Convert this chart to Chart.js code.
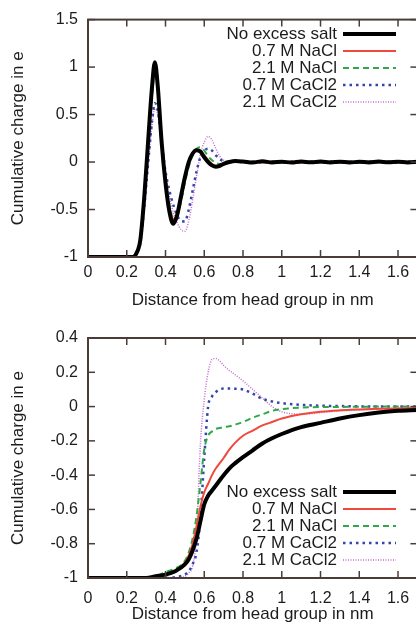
<!DOCTYPE html>
<html><head><meta charset="utf-8">
<script src="https://cdn.jsdelivr.net/npm/chart.js@4/dist/chart.umd.min.js"></script>
<style>
html,body{margin:0;padding:0;background:#fff;overflow:hidden;width:416px;height:629px;}
#w1{position:absolute;left:0;top:0;width:430px;height:314px;}
#w2{position:absolute;left:0;top:314px;width:430px;height:315px;}
</style></head><body>
<div id="w1"><canvas id="c1" width="430" height="314"></canvas></div>
<div id="w2"><canvas id="c2" width="430" height="315"></canvas></div>
<script>
// ---------- data ----------
const seriesLabels = ["No excess salt", "0.7 M NaCl", "2.1 M NaCl", "0.7 M CaCl2", "2.1 M CaCl2"];

const xTickValues = [0, 0.2, 0.4, 0.6, 0.8, 1, 1.2, 1.4, 1.6];
const xTickLabels = ["0", "0.2", "0.4", "0.6", "0.8", "1", "1.2", "1.4", "1.6"];
const yTopTickValues = [-1, -0.5, 0, 0.5, 1, 1.5];
const yTopTickLabels = ["-1", "-0.5", "0", "0.5", "1", "1.5"];
const yBotTickValues = [-1, -0.8, -0.6, -0.4, -0.2, 0, 0.2, 0.4];
const yBotTickLabels = ["-1", "-0.8", "-0.6", "-0.4", "-0.2", "0", "0.2", "0.4"];

const xTop = [0, 0.2, 0.23, 0.25, 0.27, 0.29, 0.31, 0.33, 0.345, 0.36, 0.38, 0.40, 0.42, 0.44, 0.46, 0.48, 0.50, 0.52, 0.54, 0.56, 0.58, 0.60, 0.62, 0.64, 0.66, 0.68, 0.70, 0.73, 0.76, 0.8, 0.85, 0.9, 0.95, 1.0, 1.05, 1.1, 1.15, 1.2, 1.25, 1.3, 1.35, 1.4, 1.45, 1.5, 1.55, 1.6, 1.65, 1.7];
const topNoSalt = [-1, -1, -1, -0.96, -0.82, -0.38, 0.21, 0.78, 1.05, 0.8, 0.21, -0.22, -0.52, -0.65, -0.56, -0.36, -0.16, 0.0, 0.09, 0.125, 0.11, 0.05, 0.0, -0.035, -0.05, -0.04, -0.02, 0.0, 0.01, 0.005, -0.005, 0.008, -0.004, 0.004, -0.006, 0.005, -0.003, 0.006, -0.004, 0.004, -0.005, 0.003, -0.004, 0.005, -0.003, 0.004, -0.004, 0.002];
const topNaCl07 = [-1, -1, -1, -0.96, -0.83, -0.4, 0.18, 0.74, 1.0, 0.78, 0.22, -0.18, -0.47, -0.6, -0.54, -0.36, -0.17, -0.01, 0.09, 0.13, 0.12, 0.07, 0.02, -0.02, -0.04, -0.035, -0.02, -0.005, 0.005, 0.0, 0.004, -0.004, 0.005, -0.003, 0.004, -0.004, 0.003, -0.005, 0.004, -0.003, 0.005, -0.004, 0.003, -0.004, 0.005, -0.003, 0.004, 0.0];
const topNaCl21 = [-1, -1, -1, -0.96, -0.83, -0.42, 0.15, 0.68, 0.93, 0.74, 0.22, -0.16, -0.44, -0.59, -0.57, -0.42, -0.22, -0.05, 0.07, 0.14, 0.155, 0.12, 0.06, 0.02, -0.01, -0.02, -0.015, -0.005, 0.005, 0.0, -0.004, 0.005, -0.003, 0.004, -0.005, 0.003, -0.004, 0.005, -0.003, 0.004, -0.004, 0.003, -0.005, 0.004, -0.003, 0.005, -0.004, 0.0];
const topCaCl07 = [-1, -1, -1, -0.96, -0.85, -0.48, -0.02, 0.42, 0.62, 0.55, 0.22, -0.1, -0.3, -0.45, -0.56, -0.62, -0.625, -0.5, -0.3, -0.1, 0.05, 0.12, 0.14, 0.12, 0.07, 0.03, 0.01, 0.0, 0.005, 0.0, 0.004, -0.003, 0.005, -0.004, 0.003, -0.005, 0.004, -0.003, 0.005, -0.004, 0.003, -0.004, 0.005, -0.003, 0.004, -0.004, 0.003, 0.0];
const topCaCl21 = [-1, -1, -1, -0.96, -0.86, -0.5, -0.05, 0.38, 0.56, 0.5, 0.2, -0.12, -0.36, -0.53, -0.64, -0.71, -0.73, -0.62, -0.4, -0.15, 0.08, 0.21, 0.27, 0.23, 0.14, 0.06, 0.02, 0.0, 0.005, -0.004, 0.003, -0.005, 0.004, -0.003, 0.005, -0.004, 0.003, -0.005, 0.004, -0.003, 0.004, -0.004, 0.005, -0.003, 0.004, -0.004, 0.003, 0.0];

const xBot = [0, 0.3, 0.35, 0.4, 0.45, 0.5, 0.52, 0.54, 0.56, 0.58, 0.60, 0.62, 0.64, 0.66, 0.68, 0.70, 0.73, 0.76, 0.8, 0.85, 0.9, 0.95, 1.0, 1.1, 1.2, 1.3, 1.4, 1.5, 1.6, 1.7];
const botNoSalt = [-1, -1, -0.99, -0.98, -0.96, -0.92, -0.89, -0.84, -0.77, -0.67, -0.57, -0.52, -0.49, -0.46, -0.43, -0.40, -0.36, -0.33, -0.295, -0.255, -0.215, -0.185, -0.16, -0.12, -0.095, -0.07, -0.05, -0.035, -0.025, -0.02];
const botNaCl07 = [-1, -1, -0.99, -0.98, -0.96, -0.91, -0.87, -0.8, -0.7, -0.585, -0.5, -0.45, -0.4, -0.36, -0.33, -0.3, -0.25, -0.21, -0.17, -0.14, -0.11, -0.09, -0.07, -0.045, -0.03, -0.022, -0.017, -0.013, -0.011, -0.01];
const botNaCl21 = [-1, -1, -0.99, -0.965, -0.945, -0.9, -0.85, -0.77, -0.64, -0.45, -0.25, -0.17, -0.145, -0.13, -0.125, -0.12, -0.115, -0.105, -0.09, -0.065, -0.045, -0.025, -0.015, -0.006, -0.003, -0.002, -0.001, 0, 0, 0];
const botCaCl07 = [-1, -1, -1, -1, -0.995, -0.98, -0.96, -0.92, -0.85, -0.65, -0.3, 0.0, 0.06, 0.085, 0.1, 0.105, 0.105, 0.104, 0.1, 0.075, 0.045, 0.03, 0.02, 0.01, 0.005, 0.003, 0.001, 0, 0, 0];
const botCaCl21 = [-1, -1, -1, -1, -1, -0.99, -0.97, -0.93, -0.75, -0.22, 0.04, 0.2, 0.275, 0.28, 0.265, 0.24, 0.21, 0.185, 0.15, 0.1, 0.05, 0.0, -0.03, -0.045, -0.035, -0.025, -0.02, -0.015, -0.012, -0.01];

// ---------- styles ----------
const FONT = '"Liberation Sans", Arial, Helvetica, sans-serif';
const TEXT = '#1c1c1c';
const FRAME = '#4a3d38';
const styles = [
  {color: '#000000', width: 4, dash: []},
  {color: '#f0483a', width: 2, dash: []},
  {color: '#2ea84a', width: 2, dash: [6, 4]},
  {color: '#3447a8', width: 2.5, dash: [2.5, 4]},
  {color: '#c46ad2', width: 1.5, dash: [1, 1.5]}
];

function makeDatasets(xs, seriesList) {
  return seriesList.map((ys, i) => ({
    label: seriesLabels[i],
    data: xs.map((x, j) => ({x: x, y: ys[j]})),
    borderColor: styles[i].color,
    backgroundColor: styles[i].color,
    borderWidth: styles[i].width,
    borderDash: styles[i].dash,
    showLine: true,
    pointRadius: 0,
    cubicInterpolationMode: 'monotone',
    fill: false
  }));
}

const framePlugin = {
  id: 'frame',
  afterDatasetsDraw(chart) {
    const {ctx, chartArea: a, scales} = chart;
    const x = scales.x, y = scales.y;
    ctx.save();
    ctx.strokeStyle = FRAME;
    ctx.setLineDash([]);
    ctx.lineWidth = 1.5;
    const L = 7;
    const seg = (x1, y1, x2, y2) => { ctx.beginPath(); ctx.moveTo(x1, y1); ctx.lineTo(x2, y2); ctx.stroke(); };
    x.ticks.forEach(t => {
      const p = x.getPixelForValue(t.value);
      seg(p, a.bottom, p, a.bottom - L);
      seg(p, a.top, p, a.top + L);
    });
    y.ticks.forEach(t => {
      const p = y.getPixelForValue(t.value);
      seg(a.left, p, a.left + L, p);
      seg(a.right, p, a.right - L, p);
    });
    ctx.lineWidth = 2;
    ctx.strokeRect(a.left, a.top, a.right - a.left, a.bottom - a.top);
    ctx.restore();
  }
};

const keyPlugin = {
  id: 'key',
  afterDatasetsDraw(chart, args, opts) {
    const ctx = chart.ctx;
    ctx.save();
    ctx.font = '17px ' + FONT;
    ctx.textAlign = 'right';
    ctx.textBaseline = 'middle';
    chart.data.datasets.forEach((ds, i) => {
      const yy = opts.rowY0 + i * opts.rowStep;
      ctx.fillStyle = TEXT;
      ctx.fillText(ds.label, opts.textRight, yy);
      ctx.strokeStyle = ds.borderColor;
      ctx.lineWidth = ds.borderWidth;
      ctx.setLineDash(ds.borderDash);
      ctx.beginPath();
      ctx.moveTo(opts.lineX1, yy);
      ctx.lineTo(opts.lineX2, yy);
      ctx.stroke();
    });
    ctx.restore();
  }
};

function makeChart(canvasId, xs, seriesList, yMin, yMax, yTicks, yLabels, cfg) {
  return new Chart(document.getElementById(canvasId), {
    type: 'scatter',
    data: {datasets: makeDatasets(xs, seriesList)},
    plugins: [framePlugin, keyPlugin],
    options: {
      responsive: false,
      animation: false,
      devicePixelRatio: 1,
      layout: {padding: {left: 0, top: cfg.padTop, right: 12.6, bottom: 0}},
      plugins: {
        legend: {display: false},
        tooltip: {enabled: false},
        key: cfg.key
      },
      scales: {
        x: {
          type: 'linear', min: 0, max: 1.7,
          grid: {display: false, drawTicks: false},
          border: {display: false},
          afterBuildTicks: s => { s.ticks = xTickValues.map(v => ({value: v})); },
          afterFit: s => { s.height = cfg.xHeight; },
          ticks: {
            padding: cfg.xTickPad, color: TEXT, maxRotation: 0, autoSkip: false,
            font: {family: FONT, size: 16},
            callback: (v, i) => xTickLabels[i]
          },
          title: {
            display: true, text: 'Distance from head group in nm', color: TEXT,
            font: {family: FONT, size: 17}, padding: {top: 0, bottom: cfg.xTitlePad}
          }
        },
        y: {
          type: 'linear', min: yMin, max: yMax,
          grid: {display: false, drawTicks: false},
          border: {display: false},
          afterBuildTicks: s => { s.ticks = yTicks.map(v => ({value: v})); },
          afterFit: s => { s.width = 88; },
          ticks: {
            padding: 10, color: TEXT, autoSkip: false,
            font: {family: FONT, size: 16},
            callback: (v, i) => yLabels[i]
          },
          title: {
            display: true, text: 'Cumulative charge in e', color: TEXT,
            font: {family: FONT, size: 17}, padding: {top: 8, bottom: 0}
          }
        }
      }
    }
  });
}

makeChart('c1', xTop, [topNoSalt, topNaCl07, topNaCl21, topCaCl07, topCaCl21], -1, 1.5,
  yTopTickValues, yTopTickLabels,
  {padTop: 16, xHeight: 57, xTickPad: 6.4, xTitlePad: 3.8,
   key: {textRight: 337, lineX1: 343, lineX2: 396, rowY0: 34, rowStep: 17}});

makeChart('c2', xBot, [botNoSalt, botNaCl07, botNaCl21, botCaCl07, botCaCl21], -1, 0.4,
  yBotTickValues, yBotTickLabels,
  {padTop: 24, xHeight: 51, xTickPad: 10.5, xTitlePad: 4.8,
   key: {textRight: 337, lineX1: 343, lineX2: 396, rowY0: 178, rowStep: 17}});
</script>
</body></html>
